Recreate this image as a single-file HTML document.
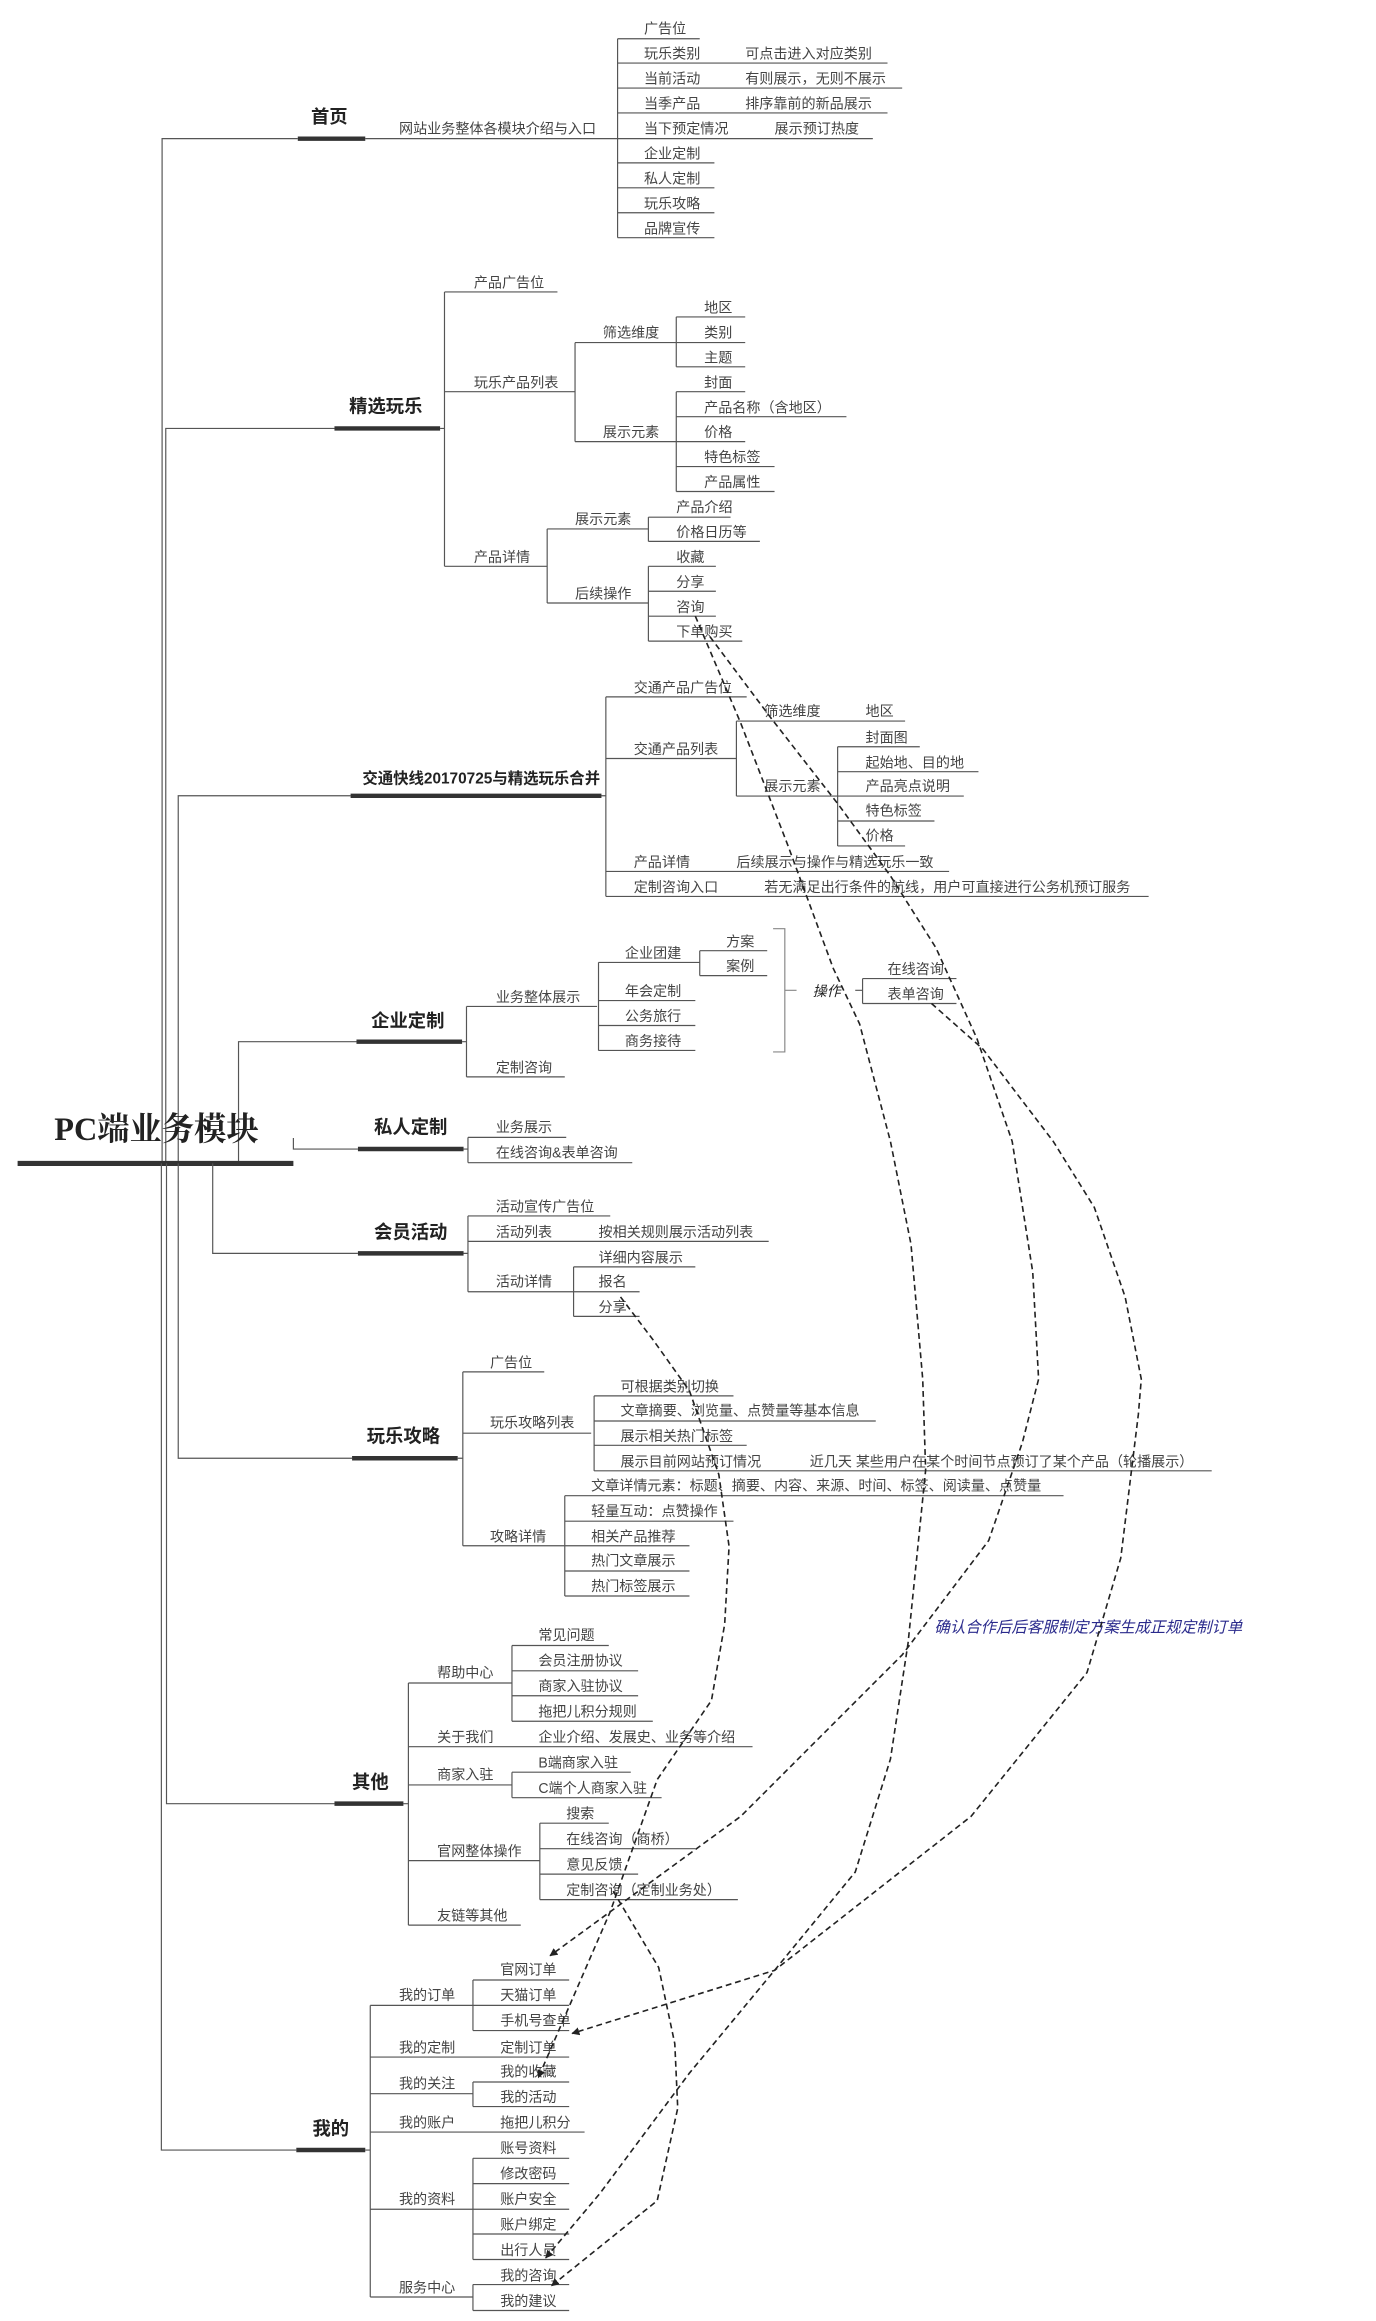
<!DOCTYPE html>
<html><head><meta charset="utf-8"><style>
html,body{margin:0;padding:0;background:#fff;}
svg{display:block}
text{font-family:"Liberation Sans","Noto Sans CJK SC",sans-serif;font-size:9.6px;fill:#444;}
.b{font-weight:bold;font-size:12.5px;fill:#222;}
.l path,.l line{stroke:#555;stroke-width:0.8;fill:none;}
.t{stroke:#333;stroke-width:3;}
.d{stroke:#222;stroke-width:1.1;fill:none;stroke-dasharray:4 2.6;}
</style></head><body>
<svg width="1376" height="2321" viewBox="0 0 938 1582" preserveAspectRatio="none" xmlns="http://www.w3.org/2000/svg">
<defs><marker id="ar" viewBox="0 0 10 10" refX="9" refY="5" markerWidth="5" markerHeight="5" orient="auto"><path d="M0,0 L10,5 L0,10 z" fill="#222"/></marker></defs>
<g class="l">
<path d="M110.5 793V94.5H203M249 94.5H421"/>
<path d="M113 793V292H228"/>
<path d="M121.5 793V542.4H239"/>
<path d="M162.6 793V710H243"/>
<path d="M421 26.4V162"/>
<path d="M421 26.4H477M421 43H605M421 60H615M421 77H605M421 94.5H595M421 111H487M421 128H487M421 145H487M421 162H487"/>
<path d="M300 292H303M303 199V386M303 199H380M303 267H392M303 386H373"/>
<path d="M392 233.5V301M392 233.5H461M392 301H461"/>
<path d="M461 216V250M461 216H508M461 233.5H508M461 250H508"/>
<path d="M461 267V335M461 267H508M461 284H577M461 301H508M461 318H528M461 335H528"/>
<path d="M373 360.5V411M373 360.5H442M373 411H442"/>
<path d="M442 352.5V369M442 352.5H498M442 369H518"/>
<path d="M442 386V437M442 386H488M442 403H488M442 420H488M442 437H506"/>
<path d="M410 542.4H413M413 475V611M413 475H509M413 517H502M413 594H647M413 611H783"/>
<path d="M502 491.5V542.6M502 491.5H617M502 542.6H571"/>
<path d="M571 509V576.6M571 509H627M571 526H667M571 542.6H657M571 559.6H637M571 576.6H617"/>
<path d="M315 710H318M318 686V734M318 686H407M318 734H385"/>
<path d="M408 656V716M408 656H477M408 682H474M408 699H474M408 716H474"/>
<path d="M477 648V665M477 648H523M477 665H523"/>
<path d="M527 633H535V717H527M535 675H543" style="stroke:#888"/>
<path d="M583 675H588M588 667V684M588 667H652M588 684H652" />
</g>
<g class="t">
<line x1="12" y1="793" x2="200" y2="793" style="stroke-width:3.5"/>
<line x1="203" y1="94.5" x2="249" y2="94.5"/>
<line x1="228" y1="292" x2="300" y2="292"/>
<line x1="239" y1="542.4" x2="410" y2="542.4"/>
<line x1="243" y1="710" x2="315" y2="710"/>
</g>
<text x="37" y="777" style="font-family:'Liberation Serif','Noto Serif CJK SC',serif;font-weight:bold;font-size:22px;fill:#222">PC端业务模块</text>
<text class="b" x="212" y="84">首页</text>
<text class="b" x="238" y="281">精选玩乐</text>
<text class="b" x="247" y="534" style="font-size:10.5px">交通快线20170725与精选玩乐合并</text>
<text class="b" x="253" y="700">企业定制</text>

<text x="272" y="91">网站业务整体各模块介绍与入口</text>
<text x="439" y="23">广告位</text>
<text x="439" y="40">玩乐类别</text><text x="508" y="40">可点击进入对应类别</text>
<text x="439" y="57">当前活动</text><text x="508" y="57">有则展示，无则不展示</text>
<text x="439" y="74">当季产品</text><text x="508" y="74">排序靠前的新品展示</text>
<text x="439" y="91">当下预定情况</text><text x="528" y="91">展示预订热度</text>
<text x="439" y="108">企业定制</text>
<text x="439" y="125">私人定制</text>
<text x="439" y="142">玩乐攻略</text>
<text x="439" y="159">品牌宣传</text>

<text x="323" y="196">产品广告位</text>
<text x="323" y="264">玩乐产品列表</text>
<text x="323" y="383">产品详情</text>
<text x="411" y="230">筛选维度</text>
<text x="411" y="298">展示元素</text>
<text x="480" y="213">地区</text><text x="480" y="230">类别</text><text x="480" y="247">主题</text>
<text x="480" y="264">封面</text><text x="480" y="281">产品名称（含地区）</text><text x="480" y="298">价格</text><text x="480" y="315">特色标签</text><text x="480" y="332">产品属性</text>
<text x="392" y="357">展示元素</text><text x="392" y="408">后续操作</text>
<text x="461" y="349">产品介绍</text><text x="461" y="366">价格日历等</text>
<text x="461" y="383">收藏</text><text x="461" y="400">分享</text><text x="461" y="417">咨询</text><text x="461" y="434">下单购买</text>

<text x="432" y="472">交通产品广告位</text>
<text x="432" y="514">交通产品列表</text>
<text x="432" y="591">产品详情</text><text x="502" y="591">后续展示与操作与精选玩乐一致</text>
<text x="432" y="608">定制咨询入口</text><text x="521" y="608">若无满足出行条件的航线，用户可直接进行公务机预订服务</text>
<text x="521" y="488">筛选维度</text><text x="590" y="488">地区</text>
<text x="521" y="539">展示元素</text>
<text x="590" y="506">封面图</text><text x="590" y="523">起始地、目的地</text><text x="590" y="539">产品亮点说明</text><text x="590" y="556">特色标签</text><text x="590" y="573">价格</text>

<text x="338" y="683">业务整体展示</text><text x="338" y="731">定制咨询</text>
<text x="426" y="653">企业团建</text><text x="426" y="679">年会定制</text><text x="426" y="696">公务旅行</text><text x="426" y="713">商务接待</text>
<text x="495" y="645">方案</text><text x="495" y="662">案例</text>
<text x="554" y="679" style="font-style:italic;fill:#222">操作</text>
<text x="605" y="664">在线咨询</text><text x="605" y="681">表单咨询</text>

<g transform="matrix(1,0,0,1.022,0,-17.446)">
<g class="l">
<path d="M200 776V783.4H244"/>
<path d="M145 793V853H244"/>
<path d="M121.5 793V989.6H240"/>
<path d="M113.5 793V1220H228"/>
<path d="M110 793V1451H202"/>
<path d="M316 783.4H319M319 775.6V792.5M319 775.6H386M319 792.5H431"/>
<path d="M316 853H319M319 828V878.6M319 828H416M319 845H524M319 878.6H436"/>
<path d="M391 862V895M391 862H474M391 895H436"/>
<path d="M312 989.6H315.5M315.5 932V1048M315.5 932H371M315.5 972.9H403M315.5 1048H385"/>
<path d="M405 948V998M405 948H500M405 964.8H597M405 981H509M405 998H826"/>
<path d="M385 1014.6V1081.5M385 1014.6H725M385 1031.6H500M385 1064.8H470M385 1081.5H470M385 1048H470"/>
<path d="M275 1220H278.4M278.4 1139.5V1301M278.4 1139.5H349M278.4 1182H513M278.4 1207.5H349M278.4 1258H368M278.4 1301H355"/>
<path d="M349 1114.5V1165M349 1114.5H415M349 1131.4H435M349 1148H435M349 1165H445"/>
<path d="M349 1199V1216M349 1199H430M349 1216H451"/>
<path d="M368 1233V1284M368 1233H415M368 1250H474M368 1267H435M368 1284H503"/>
<path d="M249 1451H252.4M252.4 1354.5V1549M252.4 1354.5H322.4M252.4 1389H388M252.4 1413.4H322.4M252.4 1439H398.5M252.4 1490.5H322.4M252.4 1549H322.4"/>
<path d="M322.4 1337.6V1371.3M322.4 1337.6H388M322.4 1354.5H388M322.4 1371.3H388"/>
<path d="M322.4 1405.6V1422M322.4 1405.6H388M322.4 1422H388"/>
<path d="M322.4 1456.5V1524M322.4 1456.5H388M322.4 1473.4H388M322.4 1490.5H388M322.4 1507H388M322.4 1524H388"/>
<path d="M322.4 1540.7V1558M322.4 1540.7H388M322.4 1558H388"/>
</g>
<g class="t">
<line x1="244" y1="783.4" x2="316" y2="783.4"/>
<line x1="244" y1="853" x2="316" y2="853"/>
<line x1="240" y1="989.6" x2="312" y2="989.6"/>
<line x1="228" y1="1220" x2="275" y2="1220"/>
<line x1="202" y1="1451" x2="249" y2="1451"/>
</g>
<text class="b" x="255" y="773">私人定制</text>
<text class="b" x="255" y="843">会员活动</text>
<text class="b" x="250" y="979">玩乐攻略</text>
<text class="b" x="240" y="1210">其他</text>
<text class="b" x="213" y="1441">我的</text>

<text x="338" y="772">业务展示</text><text x="338" y="789">在线咨询&amp;表单咨询</text>

<text x="338" y="825">活动宣传广告位</text>
<text x="338" y="842">活动列表</text><text x="408" y="842">按相关规则展示活动列表</text>
<text x="338" y="875">活动详情</text>
<text x="408" y="859">详细内容展示</text><text x="408" y="875">报名</text><text x="408" y="892">分享</text>

<text x="334" y="929">广告位</text><text x="334" y="969">玩乐攻略列表</text><text x="334" y="1045">攻略详情</text>
<text x="423" y="945">可根据类别切换</text>
<text x="423" y="961">文章摘要、浏览量、点赞量等基本信息</text>
<text x="423" y="978">展示相关热门标签</text>
<text x="423" y="995">展示目前网站预订情况</text><text x="552" y="995">近几天 某些用户在某个时间节点预订了某个产品（轮播展示）</text>
<text x="403" y="1011">文章详情元素：标题、摘要、内容、来源、时间、标签、阅读量、点赞量</text>
<text x="403" y="1028">轻量互动：点赞操作</text><text x="403" y="1045">相关产品推荐</text><text x="403" y="1061">热门文章展示</text><text x="403" y="1078">热门标签展示</text>

<text x="298" y="1136">帮助中心</text><text x="298" y="1179">关于我们</text><text x="367" y="1179">企业介绍、发展史、业务等介绍</text>
<text x="298" y="1204">商家入驻</text><text x="298" y="1255">官网整体操作</text><text x="298" y="1298">友链等其他</text>
<text x="367" y="1111">常见问题</text><text x="367" y="1128">会员注册协议</text><text x="367" y="1145">商家入驻协议</text><text x="367" y="1162">拖把儿积分规则</text>
<text x="367" y="1196">B端商家入驻</text><text x="367" y="1213">C端个人商家入驻</text>
<text x="386" y="1230">搜索</text><text x="386" y="1247">在线咨询（商桥）</text><text x="386" y="1264">意见反馈</text><text x="386" y="1281">定制咨询（定制业务处）</text>

<text x="272" y="1351">我的订单</text><text x="272" y="1386">我的定制</text><text x="341" y="1386">定制订单</text>
<text x="272" y="1410">我的关注</text><text x="272" y="1436">我的账户</text><text x="341" y="1436">拖把儿积分</text>
<text x="272" y="1487">我的资料</text><text x="272" y="1546">服务中心</text>
<text x="341" y="1334">官网订单</text><text x="341" y="1351">天猫订单</text><text x="341" y="1368">手机号查单</text>
<text x="341" y="1402">我的收藏</text><text x="341" y="1419">我的活动</text>
<text x="341" y="1453">账号资料</text><text x="341" y="1470">修改密码</text><text x="341" y="1487">账户安全</text><text x="341" y="1504">账户绑定</text><text x="341" y="1521">出行人员</text>
<text x="341" y="1538">我的咨询</text><text x="341" y="1555">我的建议</text>

<text x="637" y="1106" style="font-style:italic;fill:#2a2a8c;font-size:10.5px">确认合作后后客服制定方案生成正规定制订单</text>
</g>

<polyline class="d" marker-end="url(#ar)" points="474,420 505,493 537,576 568,660 586,698 607,778 621,848 629,940 631,1002 619,1120 607,1199 583,1276 528,1343 470,1413 409,1495 372,1539"/>
<polyline class="d" marker-end="url(#ar)" points="484,434 526,490 572,549 607,597 638,646 666,708 690,778 704,867 708,940 697,983 674,1050 615,1128 505,1238 375,1333"/>
<polyline class="d" marker-end="url(#ar)" points="635,684 670,715 718,778 746,823 767,884 778,940 776,964 764,1062 741,1140 662,1238 528,1343 390,1386"/>
<polyline class="d" marker-end="url(#ar)" points="423,884 445,913 470,948 490,1005 497,1054 494,1107 485,1159 448,1213 416,1303 367,1416"/>
<polyline class="d" marker-end="url(#ar)" points="418,1289 449,1341 460,1393 462,1437 448,1500 376,1558"/>
</svg>
</body></html>
